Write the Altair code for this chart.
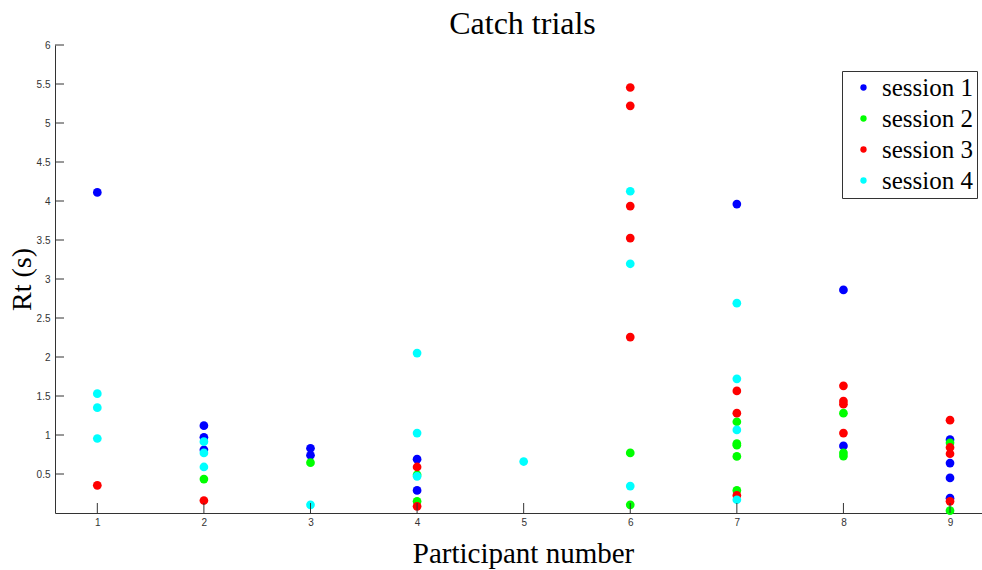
import altair as alt
import pandas as pd

# ---- data ----
sessions = ["session 1", "session 2", "session 3", "session 4"]
colors = ["#0000ff", "#00ff00", "#ff0000", "#00ffff"]

s1_x = [1, 2, 2, 2, 3, 3, 4, 4, 7, 8, 8, 9, 9, 9, 9]
s1_y = [4.11, 1.12, 0.97, 0.81, 0.83, 0.74, 0.69, 0.29, 3.96, 2.86, 0.86, 0.94, 0.64, 0.45, 0.19]

s2_x = [2, 3, 4, 4, 6, 6, 7, 7, 7, 7, 7, 8, 8, 8, 9, 9]
s2_y = [0.435, 0.645, 0.49, 0.15, 0.77, 0.105, 1.17, 0.89, 0.87, 0.725, 0.29, 1.28, 0.77, 0.73, 0.90, 0.03]

s3_x = [1, 2, 4, 4, 6, 6, 6, 6, 6, 7, 7, 7, 8, 8, 8, 8, 9, 9, 9, 9]
s3_y = [0.355, 0.16, 0.59, 0.085, 5.455, 5.22, 3.935, 3.525, 2.255, 1.565, 1.28, 0.225,
        1.63, 1.435, 1.395, 1.025, 1.19, 0.84, 0.76, 0.15]

s4_x = [1, 1, 1, 2, 2, 2, 3, 4, 4, 4, 5, 6, 6, 6, 7, 7, 7, 7]
s4_y = [1.53, 1.35, 0.955, 0.915, 0.77, 0.59, 0.105, 2.05, 1.025, 0.47, 0.66,
        4.125, 3.195, 0.345, 2.69, 1.72, 1.065, 0.17]

x_ticks = [1, 2, 3, 4, 5, 6, 7, 8, 9]
y_ticks = [0.5, 1, 1.5, 2, 2.5, 3, 3.5, 4, 4.5, 5, 5.5, 6]

# ---- build table ----
rows = []
for name, xs, ys in zip(sessions, [s1_x, s2_x, s3_x, s4_x], [s1_y, s2_y, s3_y, s4_y]):
    for xv, yv in zip(xs, ys):
        rows.append({"participant": xv, "rt": yv, "session": name})
df = pd.DataFrame(rows)

W, H = 927, 468
x_scale = alt.Scale(domain=[0.603, 9.30], nice=False, zero=False)
y_scale = alt.Scale(domain=[0, 6], nice=False, zero=False)

axis_common = dict(
    grid=False, ticks=False, domainColor="#333333", domainWidth=1,
    labelFont="Liberation Sans", labelFontSize=10, labelColor="#333333",
    titleFont="Liberation Serif", titleFontWeight="normal",
    titleColor="#000000",
)

x_axis = alt.Axis(values=x_ticks, format="d", title="Participant number",
                  labelPadding=4, titleX=468, titleY=49, titleFontSize=29,
                  titleBaseline="alphabetic", titleAlign="center", **axis_common)
y_axis = alt.Axis(values=y_ticks, format="~g", title="Rt (s)", labelPadding=5,
                  titleX=-25, titleY=H / 2, titleAngle=-90, titleFontSize=28,
                  titleBaseline="alphabetic", titleAlign="center", **axis_common)

points = alt.Chart(df).mark_circle(size=76, opacity=1).encode(
    x=alt.X("participant:Q", scale=x_scale, axis=x_axis),
    y=alt.Y("rt:Q", scale=y_scale, axis=y_axis),
    color=alt.Color("session:N",
                    scale=alt.Scale(domain=sessions, range=colors),
                    legend=alt.Legend(
                        title=None, orient="none", legendX=787, legendY=26,
                        direction="vertical",
                        strokeColor="#333333", fillColor="#ffffff", padding=4,
                        labelFont="Liberation Serif", labelFontSize=25,
                        labelColor="#000000", labelOffset=6,
                        symbolType="circle", symbolSize=40, symbolStrokeWidth=0,
                        symbolOffset=5, rowPadding=5,
                    )),
)

ytick_df = pd.DataFrame({"v": y_ticks})
xtick_df = pd.DataFrame({"v": x_ticks})

yticks = alt.Chart(ytick_df).mark_rule(color="#333333", strokeWidth=1).encode(
    y=alt.Y("v:Q", scale=y_scale, axis=y_axis),
    x=alt.value(0), x2=alt.value(9),
)
xticks = alt.Chart(xtick_df).mark_rule(color="#333333", strokeWidth=1).encode(
    x=alt.X("v:Q", scale=x_scale, axis=x_axis),
    y=alt.value(H - 10), y2=alt.value(H),
)

chart = alt.layer(points, yticks, xticks).properties(
    width=W, height=H,
    background="#ffffff",
    title=alt.TitleParams("Catch trials", font="Liberation Serif", fontSize=32,
                          fontWeight="normal", color="#000000", anchor="middle",
                          dx=4, dy=37, offset=11, baseline="alphabetic"),
    autosize=alt.AutoSizeParams(type="none"),
    padding={"left": 55, "top": 45, "right": 0, "bottom": 57},
).configure_view(strokeWidth=0, stroke="transparent")

chart.save("out.html", embed_options={"renderer": "svg", "actions": False})
